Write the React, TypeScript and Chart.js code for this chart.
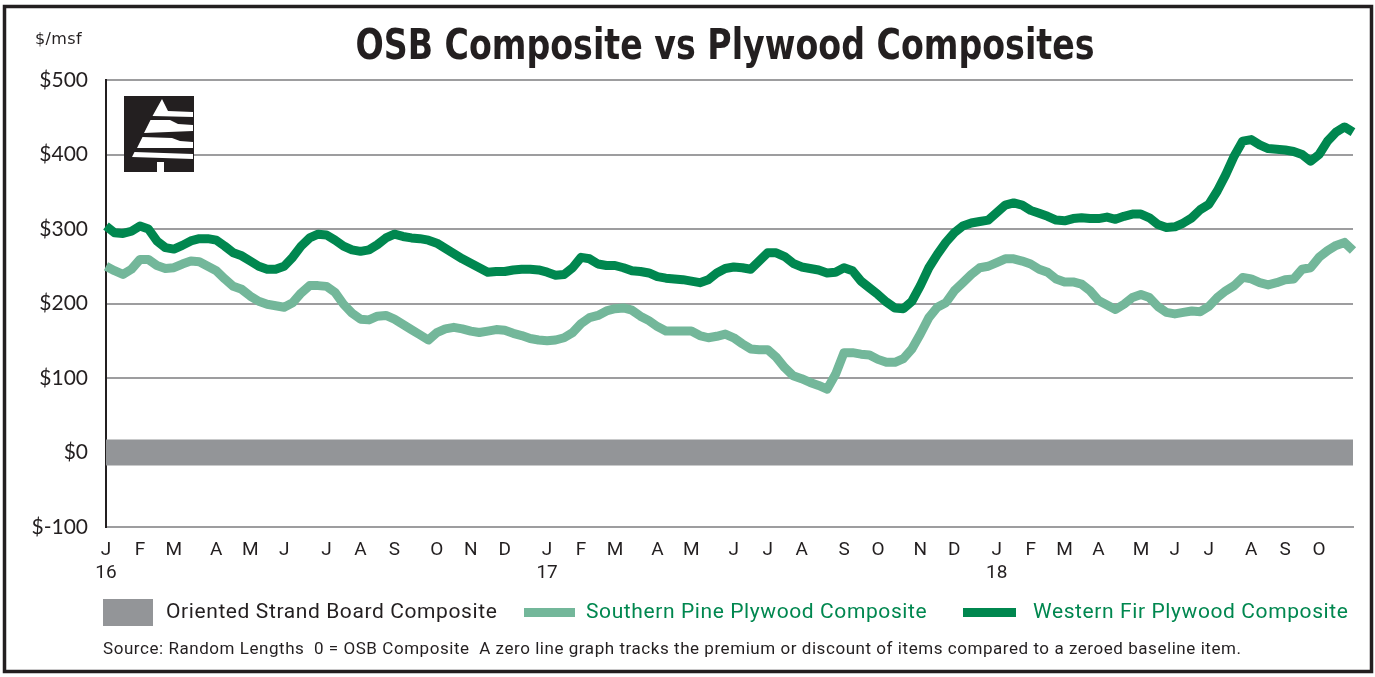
import React, { useEffect, useRef } from "react";
import { Chart, registerables } from "chart.js";

Chart.register(...registerables);

// Weekly composite premiums over the OSB composite, $/msf (Jan 2016 – Oct 2018)
const westernFir: number[] = [
  304, 295, 294, 297, 304, 300, 284, 275, 273, 278, 284, 287, 287, 285, 277, 268, 264, 257, 250, 246,
  246, 250, 262, 277, 288, 293, 292, 285, 277, 272, 270, 272, 279, 288, 293, 290, 288, 287, 285, 281,
  274, 267, 260, 254, 248, 242, 243, 243, 245, 246, 246, 245, 242, 238, 239, 248, 262, 260, 253, 251,
  251, 248, 244, 243, 241, 236, 234, 233, 232, 230, 228, 232, 241, 247, 249, 248, 246, 257, 268, 268,
  263, 254, 249, 247, 245, 241, 242, 248, 244, 230, 221, 212, 202, 194, 193, 203, 224, 248, 266, 282,
  295, 304, 308, 310, 312, 322, 332, 335, 332, 325, 321, 317, 312, 311, 314, 315, 314, 314, 316, 313,
  317, 320, 320, 315, 306, 302, 303, 308, 315, 326, 333, 351, 373, 398, 418, 420, 413, 408, 407, 406,
  404, 400, 391, 400, 418, 430, 437, 430,
];

const southernPine: number[] = [
  250, 244, 239, 246, 259, 259, 251, 247, 248, 253, 257, 256, 250, 244, 233, 223, 219, 210, 203, 199,
  197, 195, 201, 214, 224, 224, 223, 215, 199, 187, 179, 178, 183, 184, 179, 172, 165, 158, 151, 161,
  166, 168, 166, 163, 161, 163, 165, 164, 160, 157, 153, 151, 150, 151, 154, 161, 173, 181, 184, 190,
  193, 194, 191, 183, 177, 169, 163, 163, 163, 163, 157, 154, 156, 159, 154, 146, 139, 138, 138, 128,
  114, 103, 99, 94, 90, 85, 105, 134, 134, 132, 131, 125, 121, 121, 126, 139, 159, 181, 195, 201,
  217, 228, 239, 248, 250, 255, 260, 260, 257, 253, 246, 242, 233, 229, 229, 226, 217, 204, 198, 192,
  199, 208, 212, 208, 196, 188, 186, 188, 190, 189, 196, 208, 217, 224, 235, 233, 228, 225, 228, 232,
  233, 246, 248, 262, 271, 278, 282, 271,
];

// 0 = OSB Composite (the zeroed baseline item)
const osbComposite: number[] = [
  0, 0, 0, 0, 0, 0, 0, 0, 0, 0, 0, 0, 0, 0, 0, 0, 0, 0, 0, 0,
  0, 0, 0, 0, 0, 0, 0, 0, 0, 0, 0, 0, 0, 0, 0, 0, 0, 0, 0, 0,
  0, 0, 0, 0, 0, 0, 0, 0, 0, 0, 0, 0, 0, 0, 0, 0, 0, 0, 0, 0,
  0, 0, 0, 0, 0, 0, 0, 0, 0, 0, 0, 0, 0, 0, 0, 0, 0, 0, 0, 0,
  0, 0, 0, 0, 0, 0, 0, 0, 0, 0, 0, 0, 0, 0, 0, 0, 0, 0, 0, 0,
  0, 0, 0, 0, 0, 0, 0, 0, 0, 0, 0, 0, 0, 0, 0, 0, 0, 0, 0, 0,
  0, 0, 0, 0, 0, 0, 0, 0, 0, 0, 0, 0, 0, 0, 0, 0, 0, 0, 0, 0,
  0, 0, 0, 0, 0, 0, 0, 0,
];

const monthLetters: string[] = [
  "J", "F", "M", "A", "M", "J", "J", "A", "S", "O", "N", "D",
  "J", "F", "M", "A", "M", "J", "J", "A", "S", "O", "N", "D",
  "J", "F", "M", "A", "M", "J", "J", "A", "S", "O",
];
const monthStartWeeks: number[] = [
  0, 4, 8, 13, 17, 21, 26, 30, 34, 39, 43, 47,
  52, 56, 60, 65, 69, 74, 78, 82, 87, 91, 96, 100,
  105, 109, 113, 117, 122, 126, 130, 135, 139, 143,
];
const yearLabels: string[] = ["16", "17", "18"];
const yearStartWeeks: number[] = [0, 52, 105];

const seriesNames: string[] = [
  "Oriented Strand Board Composite",
  "Southern Pine Plywood Composite",
  "Western Fir Plywood Composite",
];

const TITLE = "OSB Composite vs Plywood Composites";
const UNIT = "$/msf";
const SOURCE =
  "Source: Random Lengths  0 = OSB Composite  A zero line graph tracks the premium or discount of items compared to a zeroed baseline item.";

const INK = "#231f20";
const GRAY = "#939598";
const GRID = "#9d9d9f";
const LIGHT = "#73b79a";
const DARK = "#00874f";
const TXT = "Roboto, 'DejaVu Sans', sans-serif";

const weekLabels = westernFir.map((_, i) => {
  const m = monthStartWeeks.indexOf(i);
  if (m < 0) return "";
  const y = yearStartWeeks.indexOf(i);
  return y < 0 ? monthLetters[m] : [monthLetters[m], yearLabels[y]];
});

function drawLogo(ctx: CanvasRenderingContext2D, x: number, y: number) {
  ctx.save();
  ctx.fillStyle = INK;
  ctx.fillRect(x, y, 70, 76);
  ctx.fillStyle = "#ffffff";
  const bands: number[][][] = [
    [[38, 3], [44, 15], [69, 16], [69, 21], [28.5, 20]],
    [[26.5, 24], [46, 24], [54, 28], [69, 29], [69, 35], [20, 37]],
    [[18.5, 41], [48, 42], [56, 45], [69, 46], [69, 52], [13, 52]],
    [[10.5, 56], [69, 58], [69, 63], [8, 61]],
  ];
  for (const b of bands) {
    ctx.beginPath();
    b.forEach(([px, py], k) => (k === 0 ? ctx.moveTo(x + px, y + py) : ctx.lineTo(x + px, y + py)));
    ctx.closePath();
    ctx.fill();
  }
  ctx.fillRect(x + 33, y + 66, 7, 10);
  ctx.restore();
}

function spaced(ctx: CanvasRenderingContext2D, px: number) {
  try {
    (ctx as any).letterSpacing = px + "px";
  } catch (e) {
    /* ignore */
  }
}

const decorPlugin = {
  id: "decor",
  beforeDraw(chart: any) {
    const ctx: CanvasRenderingContext2D = chart.ctx;
    ctx.save();
    ctx.fillStyle = "#ffffff";
    ctx.fillRect(0, 0, chart.width, chart.height);
    ctx.restore();
  },
  afterDraw(chart: any) {
    const ctx: CanvasRenderingContext2D = chart.ctx;
    const area = chart.chartArea;
    ctx.save();
    // frame
    ctx.strokeStyle = INK;
    ctx.lineWidth = 3.5;
    ctx.strokeRect(4.5, 6.5, chart.width - 8, chart.height - 12);

    // title (condensed bold)
    ctx.save();
    ctx.fillStyle = INK;
    ctx.font = "bold 42px 'DejaVu Sans Condensed', 'DejaVu Sans', sans-serif";
    ctx.textAlign = "center";
    ctx.textBaseline = "alphabetic";
    ctx.translate(725, 59);
    ctx.scale(0.88, 1);
    ctx.fillText(TITLE, 0, 0);
    ctx.restore();

    // unit label
    ctx.save();
    ctx.fillStyle = INK;
    ctx.font = "16px 'DejaVu Sans', sans-serif";
    spaced(ctx, 0.4);
    ctx.textBaseline = "middle";
    ctx.textAlign = "left";
    ctx.fillText(UNIT, 35, 40);
    ctx.restore();

    // logo
    drawLogo(ctx, area.left + 18, area.top + 16);

    // legend
    ctx.save();
    const ly = 613;
    ctx.textBaseline = "middle";
    ctx.textAlign = "left";
    ctx.font = `21px ${TXT}`;
    spaced(ctx, 0.6);
    ctx.fillStyle = GRAY;
    ctx.fillRect(103, 599, 50, 27);
    ctx.fillStyle = INK;
    ctx.fillText(seriesNames[0], 166, ly);
    ctx.fillStyle = LIGHT;
    ctx.fillRect(524, 608, 51, 9);
    ctx.fillStyle = DARK;
    ctx.fillText(seriesNames[1], 586, ly);
    ctx.fillRect(963, 608, 53, 9);
    ctx.fillText(seriesNames[2], 1033, ly);
    ctx.restore();

    // source
    ctx.save();
    ctx.fillStyle = INK;
    ctx.textBaseline = "middle";
    ctx.textAlign = "left";
    ctx.font = `17px ${TXT}`;
    spaced(ctx, 0.55);
    ctx.fillText(SOURCE, 103, 650);
    ctx.restore();

    ctx.restore();
  },
};

export default function App() {
  const canvasRef = useRef<HTMLCanvasElement | null>(null);

  useEffect(() => {
    if (!canvasRef.current) return;
    const chart = new Chart(canvasRef.current, {
      type: "line",
      data: {
        labels: weekLabels as any,
        datasets: [
          {
            label: seriesNames[2],
            data: westernFir,
            borderColor: DARK,
            borderWidth: 9,
            pointRadius: 0,
            tension: 0,
            borderJoinStyle: "round",
            order: 1,
          },
          {
            label: seriesNames[1],
            data: southernPine,
            borderColor: LIGHT,
            borderWidth: 9,
            pointRadius: 0,
            tension: 0,
            borderJoinStyle: "round",
            order: 2,
          },
          {
            label: seriesNames[0],
            data: osbComposite,
            borderColor: GRAY,
            borderWidth: 26,
            borderCapStyle: "butt",
            pointRadius: 0,
            tension: 0,
            order: 3,
          },
        ],
      },
      options: {
        responsive: true,
        maintainAspectRatio: false,
        animation: false,
        events: [],
        layout: { padding: { top: 80, right: 22, bottom: 0, left: 0 } },
        plugins: {
          legend: { display: false },
          tooltip: { enabled: false },
          title: { display: false },
        },
        scales: {
          x: {
            type: "category",
            offset: false,
            grid: { display: false, drawTicks: false },
            border: { display: true, color: GRID, width: 2 },
            ticks: {
              autoSkip: false,
              maxRotation: 0,
              minRotation: 0,
              padding: 12,
              color: INK,
              font: { family: TXT, size: 19, lineHeight: 1.2 },
            },
            afterFit(scale: any) {
              scale.height = 150;
            },
          },
          y: {
            min: -100,
            max: 500,
            grid: { color: GRID, lineWidth: 2, drawTicks: false },
            border: { display: true, color: INK, width: 2 },
            ticks: {
              stepSize: 100,
              padding: 18,
              color: INK,
              font: { family: "Lato, 'Open Sans', sans-serif", size: 21 },
              callback: (v: any) => "$" + v,
            },
            afterFit(scale: any) {
              scale.width = 106;
            },
          },
        },
      },
      plugins: [decorPlugin],
    });
    return () => chart.destroy();
  }, []);

  return (
    <div style={{ position: "absolute", left: 0, top: 0, width: 1375, height: 677, background: "#fff" }}>
      <canvas ref={canvasRef} />
    </div>
  );
}
